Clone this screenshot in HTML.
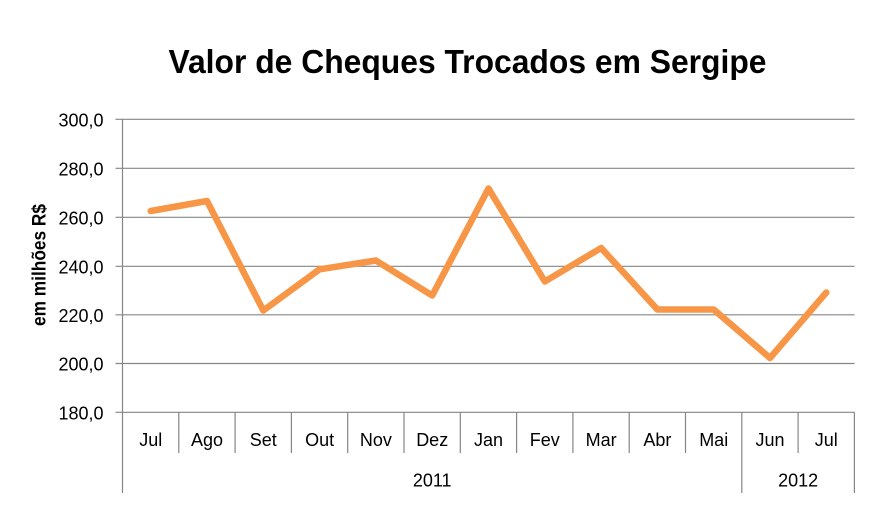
<!DOCTYPE html>
<html>
<head>
<meta charset="utf-8">
<style>
  html, body { margin: 0; padding: 0; background: #fff; }
  svg { display: block; }
  text { font-family: "Liberation Sans", "DejaVu Sans", sans-serif; fill: #000; }
</style>
</head>
<body>
<svg width="882" height="517" viewBox="0 0 882 517" xmlns="http://www.w3.org/2000/svg">
  <rect width="882" height="517" fill="#fff"/>
  <!-- Title -->
  <text x="467.5" y="73" font-size="33" font-weight="bold" text-anchor="middle" textLength="598" lengthAdjust="spacingAndGlyphs">Valor de Cheques Trocados em Sergipe</text>

  <!-- Axis title -->
  <text transform="translate(45.5,265) rotate(-90)" font-size="19" font-weight="bold" text-anchor="middle" textLength="122" lengthAdjust="spacingAndGlyphs">em milhões R$</text>

  <!-- gridlines -->
  <g stroke="#868686" stroke-width="1.2">
    <line x1="115.5" y1="119.3" x2="854.5" y2="119.3"/>
    <line x1="115.5" y1="168.3" x2="854.5" y2="168.3"/>
    <line x1="115.5" y1="217.3" x2="854.5" y2="217.3"/>
    <line x1="115.5" y1="266.3" x2="854.5" y2="266.3"/>
    <line x1="115.5" y1="314.8" x2="854.5" y2="314.8"/>
    <line x1="115.5" y1="363.5" x2="854.5" y2="363.5"/>
    <line x1="115.5" y1="412.3" x2="854.5" y2="412.3"/>
    <!-- vertical axis -->
    <line x1="122.5" y1="119.3" x2="122.5" y2="493"/>
    <!-- category ticks -->
    <line x1="178.8" y1="412.3" x2="178.8" y2="453"/>
    <line x1="235.1" y1="412.3" x2="235.1" y2="453"/>
    <line x1="291.4" y1="412.3" x2="291.4" y2="453"/>
    <line x1="347.7" y1="412.3" x2="347.7" y2="453"/>
    <line x1="404.0" y1="412.3" x2="404.0" y2="453"/>
    <line x1="460.3" y1="412.3" x2="460.3" y2="453"/>
    <line x1="516.6" y1="412.3" x2="516.6" y2="453"/>
    <line x1="572.9" y1="412.3" x2="572.9" y2="453"/>
    <line x1="629.2" y1="412.3" x2="629.2" y2="453"/>
    <line x1="685.5" y1="412.3" x2="685.5" y2="453"/>
    <line x1="741.8" y1="412.3" x2="741.8" y2="493"/>
    <line x1="798.1" y1="412.3" x2="798.1" y2="453"/>
    <line x1="854.4" y1="412.3" x2="854.4" y2="493"/>
  </g>

  <!-- y tick labels -->
  <g font-size="18" text-anchor="end">
    <text x="103.5" y="126.5">300,0</text>
    <text x="103.5" y="175.5">280,0</text>
    <text x="103.5" y="224.5">260,0</text>
    <text x="103.5" y="273.5">240,0</text>
    <text x="103.5" y="322">220,0</text>
    <text x="103.5" y="370.7">200,0</text>
    <text x="103.5" y="419.5">180,0</text>
  </g>

  <!-- category labels -->
  <g font-size="18" text-anchor="middle">
    <text x="150.7" y="446">Jul</text>
    <text x="207.0" y="446">Ago</text>
    <text x="263.3" y="446">Set</text>
    <text x="319.6" y="446">Out</text>
    <text x="375.9" y="446">Nov</text>
    <text x="432.2" y="446">Dez</text>
    <text x="488.5" y="446">Jan</text>
    <text x="544.8" y="446">Fev</text>
    <text x="601.1" y="446">Mar</text>
    <text x="657.4" y="446">Abr</text>
    <text x="713.7" y="446">Mai</text>
    <text x="770.0" y="446">Jun</text>
    <text x="826.3" y="446">Jul</text>
    <text x="432.2" y="486.5">2011</text>
    <text x="798.1" y="486.5">2012</text>
  </g>

  <!-- series -->
  <polyline fill="none" stroke="#F79646" stroke-width="6.5" stroke-linejoin="round" stroke-linecap="round"
    points="150.7,211 207,201 263.3,310.5 319.6,269.3 375.9,260.5 432.2,295.5 488.5,188.5 544.8,281.5 601.1,248 657.4,309.5 713.7,309.5 770,358 826.3,292.5"/>
</svg>
</body>
</html>
